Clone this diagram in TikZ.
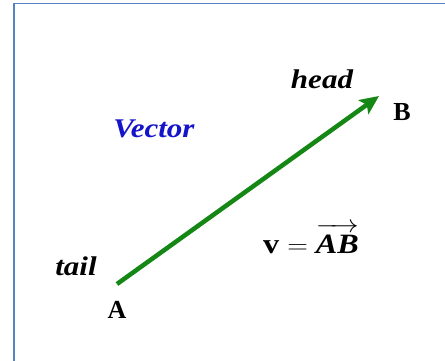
\documentclass[tikz,border=0pt]{standalone}
\usepackage{fontspec}
\setmainfont{Liberation Serif}
\usetikzlibrary{arrows.meta}
\definecolor{framecol}{RGB}{84,130,200}
\definecolor{vecgreen}{RGB}{20,135,20}
\definecolor{vecblue}{RGB}{20,20,200}
\newcommand{\wide}[1]{\scalebox{1.15}[1]{#1}}
\tikzset{
  lbl/.style={font=\fontsize{27}{30}\selectfont\bfseries\itshape, inner sep=0pt, anchor=base},
  pt/.style={font=\fontsize{26}{30}\selectfont\bfseries, inner sep=0pt, anchor=base},
  vec/.style={draw=vecgreen, line width=4.5pt, -{Stealth[length=19pt,width=17pt,inset=4pt]}}
}
\begin{document}
\begin{tikzpicture}[x=1pt,y=-1pt]
\useasboundingbox (0,0) rectangle (445,360);
\fill[white] (0,0) rectangle (445,360);
\draw[framecol, line width=1.5pt] (14,370) -- (14,3.5) -- (455,3.5);
\coordinate (A0) at (117,284);
\coordinate (B0) at (379,96);
\draw[vec] (A0) -- (B0);
\node[lbl] (head) at (322,88) {\wide{head}};
\node[pt] (B) at (402,120) {B};
\node[lbl, text=vecblue] (vector) at (154,137) {\wide{Vector}};
\node[lbl] (tail) at (76,275) {\wide{tail}};
\node[pt] (A) at (117,318) {A};
\node[font=\fontsize{28}{30}\selectfont, inner sep=0pt, anchor=base] (eq) at (311,253) {\wide{$\textbf{v} = \overrightarrow{\textbf{\textit{AB}}\rule{0pt}{0.76em}}$}};
\end{tikzpicture}
\end{document}
